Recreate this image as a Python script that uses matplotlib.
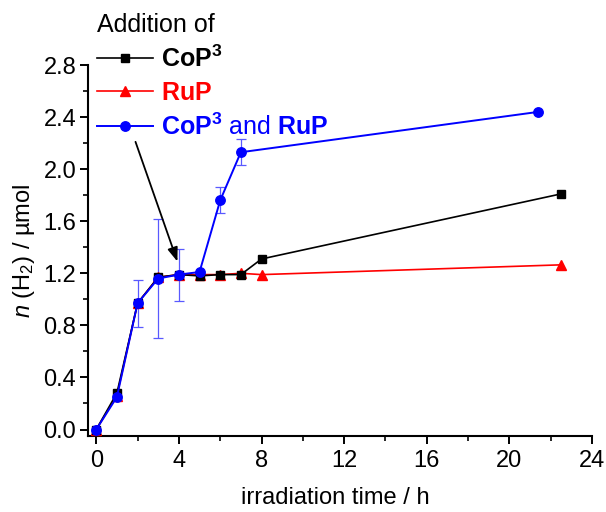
import numpy as np
import matplotlib
matplotlib.use("Agg")
import matplotlib.pyplot as plt
from matplotlib.ticker import MultipleLocator, FormatStrFormatter

plt.rcParams['font.family'] = ['Liberation Sans', 'DejaVu Sans']
plt.rcParams['mathtext.fontset'] = 'custom'
plt.rcParams['mathtext.rm'] = 'Liberation Sans'
plt.rcParams['mathtext.it'] = 'Liberation Sans:italic'
plt.rcParams['mathtext.bf'] = 'Liberation Sans:bold'

# data
cop_t = [0, 1, 2, 3, 4, 5, 6, 7, 8, 22.5]
cop_n = [0.0, 0.28, 0.97, 1.17, 1.19, 1.18, 1.19, 1.19, 1.31, 1.81]
rup_t = [0, 1, 2, 3, 4, 5, 6, 7, 8, 22.5]
rup_n = [0.0, 0.26, 0.97, 1.17, 1.19, 1.19, 1.19, 1.20, 1.19, 1.265]
both_t = [0, 1, 2, 3, 4, 5, 6, 7, 21.4]
both_n = [0.0, 0.25, 0.97, 1.16, 1.19, 1.21, 1.76, 2.13, 2.44]
both_err = [np.nan, np.nan, 0.18, 0.46, 0.20, np.nan, 0.10, 0.10, np.nan]
arrow_start = (1.9, 2.21)
arrow_end = (3.93, 1.29)
x_ticks = [0, 4, 8, 12, 16, 20, 24]
y_ticks = [0.0, 0.4, 0.8, 1.2, 1.6, 2.0, 2.4, 2.8]

fig = plt.figure(figsize=(6.06, 5.12), dpi=100)
ax = fig.add_axes([0.1452, 0.1484, 0.9769 - 0.1452, 0.873 - 0.1484])

ax.errorbar(both_t, both_n, yerr=both_err, fmt='none', ecolor=(0.35, 0.35, 1.0),
            elinewidth=0.9, capsize=3.5, capthick=0.9, zorder=2)
l_rup, = ax.plot(rup_t, rup_n, color='red', marker='^', markersize=7, lw=1.2, zorder=3)
l_cop, = ax.plot(cop_t, cop_n, color='black', marker='s', markersize=6, lw=1.2, zorder=4)
l_both, = ax.plot(both_t, both_n, color='blue', marker='o', markersize=6.8, lw=1.4, zorder=5)

ax.annotate('', xy=arrow_end, xytext=arrow_start,
            arrowprops=dict(arrowstyle='-|>,head_length=0.6,head_width=0.22', color='black', lw=1.3,
                            mutation_scale=14, shrinkA=0, shrinkB=0), zorder=6)

ax.set_xlim(-0.4, 24)
ax.set_ylim(-0.05, 2.8)
ax.set_xticks(x_ticks)
ax.set_yticks(y_ticks)
ax.yaxis.set_major_formatter(FormatStrFormatter('%.1f'))
ax.xaxis.set_minor_locator(MultipleLocator(2))
ax.yaxis.set_minor_locator(MultipleLocator(0.2))
for s in ['top', 'right']:
    ax.spines[s].set_visible(False)
for s in ['left', 'bottom']:
    ax.spines[s].set_linewidth(1.5)
ax.tick_params(which='major', direction='out', length=5.5, width=1.4, labelsize=17)
ax.tick_params(axis='x', which='major', pad=4.5)
ax.tick_params(axis='y', which='major', pad=3)
ax.tick_params(which='minor', direction='out', length=3.5, width=1.2)

ax.set_xlabel('irradiation time / h', fontsize=17)
ax.xaxis.set_label_coords((335 - 88) / (592 - 88), -(487 - 436) / (436 - 65))
ax.set_ylabel(r'$n$ (H$_2$) / µmol', fontsize=17)
ax.yaxis.set_label_coords(-(88 - 24) / (592 - 88), 0.5)
ax.yaxis.label.set_verticalalignment('center')

leg = ax.legend([l_cop, l_rup, l_both],
                [r'$\mathbf{CoP^3}$', r'$\mathbf{RuP}$', r'$\mathbf{CoP^3}$ and $\mathbf{RuP}$'],
                title='Addition of', alignment='left', loc='upper left',
                frameon=False, fontsize=18, title_fontsize=18,
                handlelength=2.24, handletextpad=0.32, labelspacing=0.35,
                borderpad=0.3, borderaxespad=0.0)
leg.set_bbox_to_anchor((89.5 / 606, 1 - 5.5 / 512), transform=fig.transFigure)
for t, c in zip(leg.get_texts(), ['black', 'red', 'blue']):
    t.set_color(c)

fig.savefig('out.png', dpi=100)
